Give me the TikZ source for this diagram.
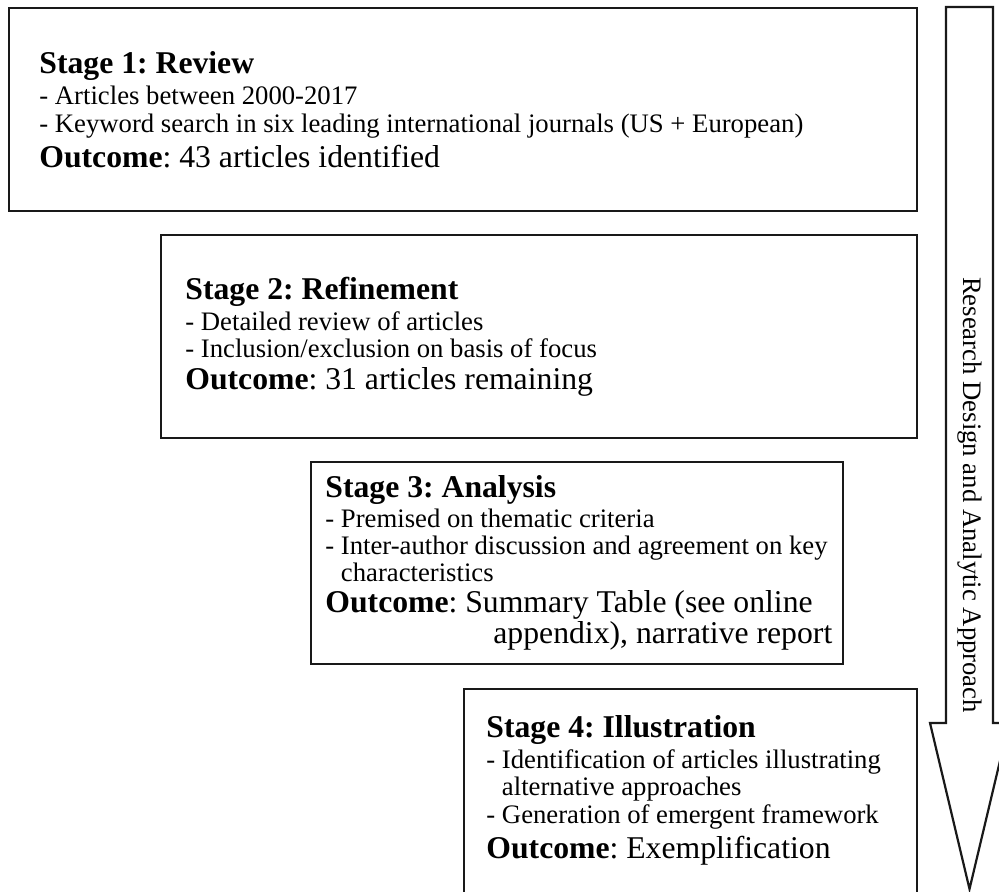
\documentclass[tikz,border=0pt]{standalone}
\usepackage{fontspec}
\setmainfont{Liberation Serif}
\frenchspacing
\newcommand{\headfont}{\fontsize{15.85}{16}\selectfont}
\newcommand{\bodyfont}{\fontsize{13.35}{13.6}\selectfont}

\begin{document}
\begin{tikzpicture}[
  x=0.5pt, y=-0.5pt,
  outline/.style={draw=black!90, line width=1.1pt},
  stagebox/.style={outline, anchor=north west, minimum height=101.5pt},
  stagetext/.style={anchor=west, align=left, font=\bodyfont, inner sep=0pt}
]
  \useasboundingbox (0,0) rectangle (999,891);
  \clip (0,0) rectangle (999,891);

  % the four stages
  \node[stagebox, minimum width=454pt] (review) at (8,7) {};
  \node[stagetext] (review text) at ([xshift=15.5pt]review.west)
    {{\headfont\bfseries Stage 1: Review}\\[2pt]
     - Articles between 2000-2017\\
     - Keyword search in six leading international journals (US + European)\\[2.5pt]
     {\headfont\textbf{Outcome}: 43 articles identified}};

  \node[stagebox, minimum width=378pt] (refine) at (160,234) {};
  \node[stagetext] (refine text) at ([xshift=12.5pt]refine.west)
    {{\headfont\bfseries Stage 2: Refinement}\\[2pt]
     - Detailed review of articles\\
     - Inclusion/exclusion on basis of focus\\[2.5pt]
     {\headfont\textbf{Outcome}: 31 articles remaining}};

  \node[stagebox, minimum width=266pt, minimum height=101pt] (analysis) at (310,461) {};
  \node[stagetext] (analysis text) at ([xshift=7.5pt]analysis.west)
    {{\headfont\bfseries Stage 3: Analysis}\\[1pt]
     - Premised on thematic criteria\\
     - Inter-author discussion and agreement on key\\
     \hphantom{- }characteristics\\[2pt]
     {\headfont\textbf{Outcome}: Summary Table (see online}\\
     {\headfont\hspace*{84pt}appendix), narrative report}};

  % this one runs off the bottom edge
  \node[stagebox, minimum width=226.5pt, minimum height=108.5pt] (illustrate) at (463,688) {};
  \node[stagetext] (illustrate text) at ([xshift=11.5pt, yshift=3.75pt]illustrate.west)
    {{\headfont\bfseries Stage 4: Illustration}\\[2pt]
     - Identification of articles illustrating\\
     \hphantom{- }alternative approaches\\
     - Generation of emergent framework\\[2.5pt]
     {\headfont\textbf{Outcome}: Exemplification}};

  % big arrow down the right side
  \draw[outline] (946,7) -- (993,7) -- (993,723) -- (1009,723) -- (969.5,889)
    -- (930,723) -- (946,723) -- cycle;
  \node[rotate=-90, font=\bodyfont, inner sep=0pt] (approach) at (969.5,495)
    {Research Design and Analytic Approach};
\end{tikzpicture}
\end{document}
